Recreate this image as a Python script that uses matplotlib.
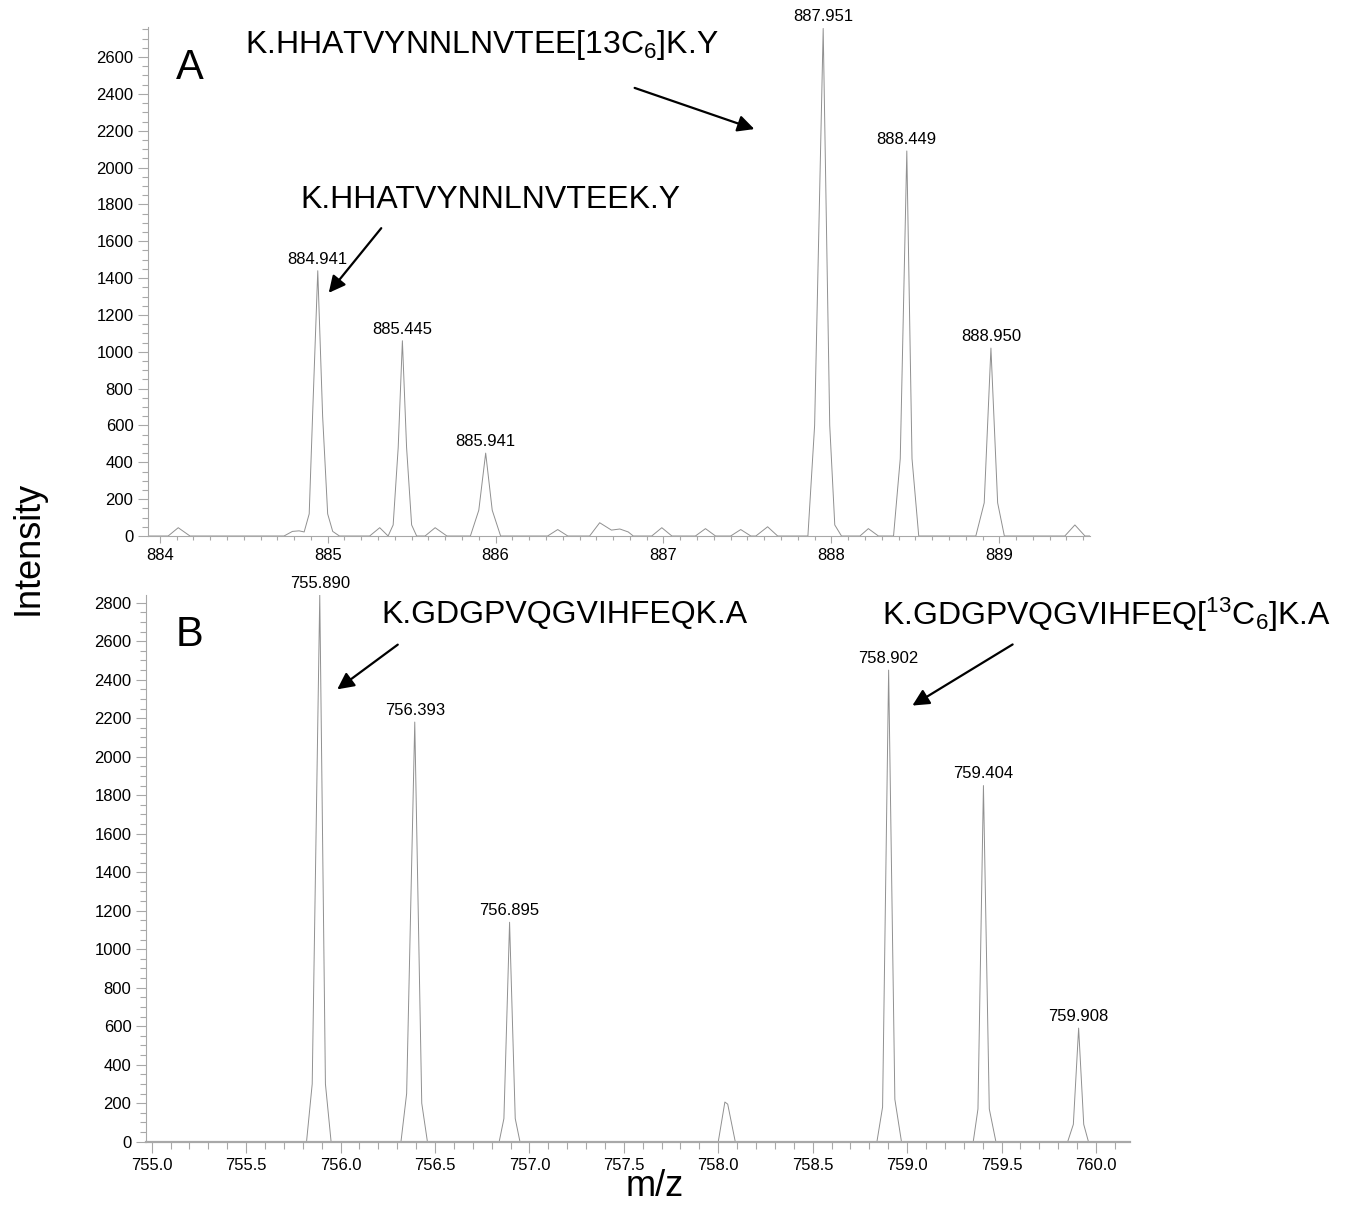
import matplotlib
matplotlib.use("Agg")
import matplotlib.pyplot as plt
from matplotlib.ticker import MultipleLocator
import numpy as np

plt.rcParams['font.family'] = ['Liberation Sans', 'DejaVu Sans']
plt.rcParams['mathtext.fontset'] = 'custom'
plt.rcParams['mathtext.rm'] = 'Liberation Sans'
plt.rcParams['mathtext.it'] = 'Liberation Sans'
plt.rcParams['mathtext.default'] = 'regular'

# panel A trace (m/z, intensity)
a_mz = [883.93, 884.05, 884.11, 884.18,
        884.74, 884.79, 884.83, 884.86, 884.89, 884.91, 884.941, 884.97, 885.00, 885.03, 885.07,
        885.25, 885.31, 885.36, 885.39, 885.42, 885.445, 885.47, 885.50, 885.53,
        885.58, 885.64, 885.71,
        885.85, 885.90, 885.941, 885.98, 886.03,
        886.31, 886.37, 886.43,
        886.56, 886.62, 886.69, 886.74, 886.79, 886.82,
        886.93, 886.99, 887.05,
        887.19, 887.25, 887.31,
        887.40, 887.46, 887.52,
        887.55, 887.62, 887.68,
        887.86, 887.90, 887.951, 887.99, 888.02, 888.06,
        888.17, 888.22, 888.28,
        888.37, 888.41, 888.449, 888.48, 888.52,
        888.86, 888.91, 888.950, 888.99, 889.03,
        889.39, 889.45, 889.51, 889.54]
a_int = [0, 0, 45, 0,
         0, 25, 28, 22, 120, 650, 1440, 650, 120, 25, 0,
         0, 45, 0, 60, 480, 1060, 480, 60, 0,
         0, 45, 0,
         0, 140, 450, 140, 0,
         0, 35, 0,
         0, 72, 32, 38, 22, 0,
         0, 45, 0,
         0, 40, 0,
         0, 35, 0,
         0, 50, 0,
         0, 600, 2755, 600, 60, 0,
         0, 40, 0,
         0, 420, 2090, 420, 0,
         0, 180, 1020, 180, 0,
         0, 60, 0, 0]

a_labels = ['884.941', '885.445', '885.941', '887.951', '888.449', '888.950']
a_lab_mz = [884.941, 885.445, 885.941, 887.951, 888.449, 888.950]
a_lab_int = [1440, 1060, 450, 2755, 2090, 1020]

# panel B trace
b_mz = [754.97,
        755.82, 755.85, 755.89, 755.92, 755.95,
        756.32, 756.35, 756.393, 756.43, 756.46,
        756.84, 756.865, 756.895, 756.925, 756.95,
        758.00, 758.035, 758.05, 758.09,
        758.84, 758.87, 758.902, 758.935, 758.97,
        759.35, 759.375, 759.404, 759.435, 759.47,
        759.85, 759.88, 759.908, 759.935, 759.96,
        760.18]
b_int = [0,
         0, 300, 2840, 300, 0,
         0, 250, 2180, 200, 0,
         0, 120, 1140, 120, 0,
         0, 206, 195, 0,
         0, 180, 2450, 220, 0,
         0, 170, 1850, 170, 0,
         0, 90, 590, 90, 0,
         0]

b_labels = ['755.890', '756.393', '756.895', '758.902', '759.404', '759.908']
b_lab_mz = [755.890, 756.393, 756.895, 758.902, 759.404, 759.908]
b_lab_int = [2840, 2180, 1140, 2450, 1850, 590]

W, H = 1352, 1205
fig = plt.figure(figsize=(W / 100, H / 100), dpi=100)

def px(x, y):
    return x / W, 1 - y / H

def style(ax):
    for s in ['top', 'right']:
        ax.spines[s].set_visible(False)
    for s in ['left', 'bottom']:
        ax.spines[s].set_color('#a8a8a8')
    ax.tick_params(which='major', color='#a8a8a8', labelsize=12, length=7, width=0.8)
    ax.tick_params(which='minor', color='#a8a8a8', length=4, width=0.8)
    ax.tick_params(axis='x', which='major', length=5)
    ax.tick_params(axis='x', which='minor', length=3)
    ax.yaxis.set_major_locator(MultipleLocator(200))
    ax.yaxis.set_minor_locator(MultipleLocator(50))
    ax.xaxis.set_minor_locator(MultipleLocator(0.1))

# panel A
axA = fig.add_axes([148 / W, 1 - 536 / H, (1090 - 148) / W, (536 - 27) / H])
axA.plot(a_mz, a_int, color='#909090', lw=0.7)
axA.set_xlim(883.93, 889.54)
axA.set_ylim(0, 2763)
style(axA)
axA.xaxis.set_major_locator(MultipleLocator(1))
axA.xaxis.set_major_formatter(plt.FormatStrFormatter('%d'))
for t, x, y in zip(a_labels, a_lab_mz, a_lab_int):
    axA.annotate(t, xy=(x, y), xytext=(0, 3), textcoords='offset points',
                 ha='center', va='bottom', fontsize=12, annotation_clip=False)

# panel B
axB = fig.add_axes([146 / W, 1 - 1141.7 / H, (1130 - 146) / W, (1141.7 - 595) / H])
axB.plot(b_mz, b_int, color='#909090', lw=0.7)
axB.set_xlim(754.97, 760.18)
axB.set_ylim(0, 2840)
style(axB)
axB.spines['bottom'].set_linewidth(1.6)
axB.xaxis.set_major_locator(MultipleLocator(0.5))
axB.xaxis.set_major_formatter(plt.FormatStrFormatter('%.1f'))
axB.tick_params(axis='x', which='major', length=8)
axB.tick_params(axis='x', which='minor', length=5)
for t, x, y in zip(b_labels, b_lab_mz, b_lab_int):
    axB.annotate(t, xy=(x, y), xytext=(0, 3), textcoords='offset points',
                 ha='center', va='bottom', fontsize=12, annotation_clip=False)

# panel letters
fig.text(*px(176, 68), 'A', fontsize=30, ha='left', va='center')
fig.text(*px(176, 635), 'B', fontsize=30, ha='left', va='center')

# peptide annotations
fig.text(*px(245, 45), r'K.HHATVYNNLNVTEE[13C$_6$]K.Y', fontsize=23, ha='left', va='center')
fig.text(*px(300, 200), 'K.HHATVYNNLNVTEEK.Y', fontsize=23, ha='left', va='center')
fig.text(*px(381, 615), 'K.GDGPVQGVIHFEQK.A', fontsize=23, ha='left', va='center')
fig.text(*px(882, 615), r'K.GDGPVQGVIHFEQ[$^{13}$C$_6$]K.A', fontsize=23, ha='left', va='center')

arrows = [((632, 87), (757, 130)),
          ((383, 226), (327, 295)),
          ((400, 643), (335, 691)),
          ((1015, 643), (910, 707))]
for (x0, y0), (x1, y1) in arrows:
    fig.add_artist(matplotlib.patches.FancyArrowPatch(
        px(x0, y0), px(x1, y1), transform=fig.transFigure,
        arrowstyle='-|>,head_length=10,head_width=5', mutation_scale=1,
        color='black', lw=1.6))

fig.text(*px(28, 548), 'Intensity', fontsize=26, rotation=90, ha='center', va='center')
fig.text(*px(655, 1187), 'm/z', fontsize=26, ha='center', va='center')

fig.savefig('out.png', dpi=100, facecolor='white')
